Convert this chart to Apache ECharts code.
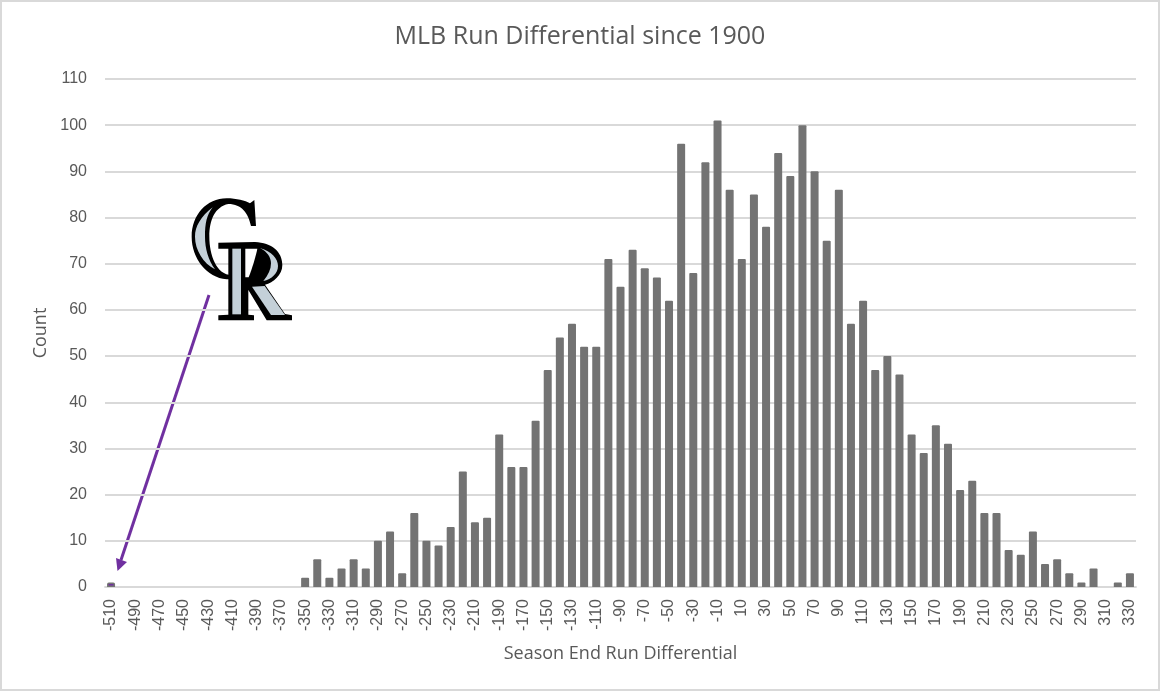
<!DOCTYPE html>
<html>
<head>
<meta charset="utf-8">
<style>html,body{margin:0;padding:0;background:#fff}#c{width:1160px;height:691px}</style>
<script src="https://cdn.jsdelivr.net/npm/echarts@6/dist/echarts.min.js"></script>
</head>
<body>
<div id="c"></div>
<script>
const categories = [-510,-500,-490,-480,-470,-460,-450,-440,-430,-420,-410,-400,-390,-380,-370,-360,-350,-340,-330,-320,-310,-300,-290,-280,-270,-260,-250,-240,-230,-220,-210,-200,-190,-180,-170,-160,-150,-140,-130,-120,-110,-100,-90,-80,-70,-60,-50,-40,-30,-20,-10,0,10,20,30,40,50,60,70,80,90,100,110,120,130,140,150,160,170,180,190,200,210,220,230,240,250,260,270,280,290,300,310,320,330];
const counts = [1,0,0,0,0,0,0,0,0,0,0,0,0,0,0,0,2,6,2,4,6,4,10,12,3,16,10,9,13,25,14,15,33,26,26,36,47,54,57,52,52,71,65,73,69,67,62,96,68,92,101,86,71,85,78,94,89,100,90,75,86,57,62,47,50,46,33,29,35,31,21,23,16,16,8,7,12,5,6,3,1,4,0,1,3];
const titleText = 'MLB Run Differential since 1900';
const xName = 'Season End Run Differential';
const yName = 'Count';
const gray = '#737373', purple = '#7030a0', text = '#595959', steel = '#c4d0d8';
const font = '"Liberation Sans"';

// Team logo outline, drawn as an annotation (not data)
const logoBlack = [
  'M253 60 L258 138 L243 138 C235 100 215 72 175 72 C135 80 118 120 118 170 C118 225 140 285 185 285 L235 285 L235 298 L170 298 C110 292 65 235 65 170 C65 105 110 55 170 55 C200 55 225 62 240 70 Z',
  'M145 188 L255 186 C305 188 337 215 337 255 C337 285 310 308 285 314 L345 402 L366 406 L366 421 L290 421 L222 308 L235 308 L235 404 L252 406 L252 421 L145 421 L145 406 L175 404 L175 206 L145 206 Z'
];
const logoWhite = ['M226 206 L262 206 C258 225 248 262 236 292 L226 292 Z'];
const logoSteel = [
  'M128 82 C92 110 75 140 75 170 C75 210 100 250 135 268 C115 240 105 205 105 170 C105 130 110 105 128 82 Z',
  'M187 206 L213 206 L213 403 L187 403 Z',
  'M270 204 C305 215 324 235 324 258 C324 280 305 298 280 303 C295 285 303 268 303 250 C303 232 292 215 270 204 Z',
  'M246 320 L284 318 L345 405 L303 405 Z'
];
const logoPart = (d, fill) => ({type:'path',silent:true,shape:{pathData:d},style:{fill:fill}});

const chart = echarts.init(document.getElementById('c'), null, {renderer:'canvas'});
chart.setOption({
  animation:false,
  backgroundColor:'#fff',
  title:{text:titleText,left:'center',top:19,textStyle:{color:text,fontSize:25,fontWeight:'normal',fontFamily:'"Open Sans"'}},
  grid:{left:105,right:24,top:79,bottom:104},
  xAxis:{type:'category',data:categories,
    axisLine:{lineStyle:{color:'#d9d9d9',width:1.8}},axisTick:{show:false},
    axisLabel:{interval:1,rotate:90,color:text,fontSize:16,fontFamily:font,margin:12},
    name:xName,nameLocation:'middle',nameGap:58,
    nameTextStyle:{color:text,fontSize:18,fontFamily:'"Open Sans"'}},
  yAxis:{type:'value',min:0,max:110,interval:10,
    axisLine:{show:false},axisTick:{show:false},
    splitLine:{lineStyle:{color:'#d9d9d9',width:1.8}},
    axisLabel:{color:text,fontSize:16,fontFamily:font,margin:18},
    name:yName,nameLocation:'middle',nameGap:54,
    nameTextStyle:{color:text,fontSize:18,fontFamily:'"Open Sans"'}},
  series:[
    {type:'bar',barWidth:8,
      itemStyle:{color:gray,borderRadius:[1,1,0,0]},
      data:counts.map((v,i)=>i===0?{value:v,itemStyle:{color:purple,borderColor:gray,borderWidth:1.5}}:v)},
    {type:'custom',coordinateSystem:'none',silent:true,z:10,data:[0],
      renderItem:()=>({type:'group',x:170,y:180,scaleX:1/3,scaleY:1/3,children:[
        ...logoBlack.map(d=>logoPart(d,'#000')),
        ...logoWhite.map(d=>logoPart(d,'#fff')),
        ...logoSteel.map(d=>logoPart(d,steel))
      ]})}
  ],
  graphic:[
    {type:'rect',silent:true,z:-1,shape:{x:1,y:1,width:1158,height:689},style:{fill:null,stroke:'#d9d9d9',lineWidth:2}},
    {type:'line',silent:true,shape:{x1:209,y1:295,x2:121,y2:560},style:{stroke:purple,lineWidth:3}},
    {type:'polygon',silent:true,shape:{points:[[117.5,571],[116,558],[127,562]]},style:{fill:purple}}
  ]
});
</script>
</body>
</html>
